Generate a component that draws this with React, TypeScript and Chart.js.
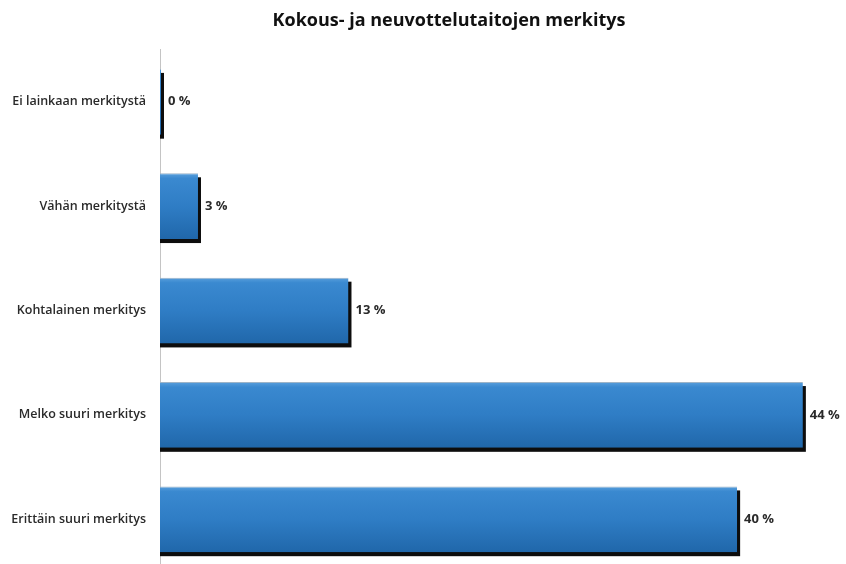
import React, { useEffect, useRef } from "react";
import { Chart, registerables } from "chart.js";

Chart.register(...registerables);

const titleText = "Kokous- ja neuvottelutaitojen merkitys";
const categories = [
  "Ei lainkaan merkitystä",
  "Vähän merkitystä",
  "Kohtalainen merkitys",
  "Melko suuri merkitys",
  "Erittäin suuri merkitys",
];
const values = [0, 2.6, 12.9, 44, 39.5];
const valueLabels = ["0 %", "3 %", "13 %", "44 %", "40 %"];

const FONT = "'Open Sans', Lato, sans-serif";

const shadowPlugin = {
  id: "barShadow",
  beforeDatasetsDraw(chart: any) {
    const ctx = chart.ctx;
    const meta = chart.getDatasetMeta(0);
    ctx.save();
    ctx.fillStyle = "#0d0d0d";
    meta.data.forEach((el: any) => {
      const p = el.getProps(["x", "y", "base", "height"], true);
      const left = Math.min(p.x, p.base);
      const w = Math.max(Math.abs(p.x - p.base), 1);
      ctx.fillRect(left, p.y - p.height / 2 + 4, w + 3, p.height);
    });
    ctx.restore();
  },
  afterDatasetsDraw(chart: any) {
    const ctx = chart.ctx;
    const meta = chart.getDatasetMeta(0);
    ctx.save();
    ctx.font = `bold 13px ${FONT}`;
    ctx.fillStyle = "#2a2a2a";
    ctx.textAlign = "left";
    ctx.textBaseline = "middle";
    meta.data.forEach((el: any, i: number) => {
      ctx.fillText(valueLabels[i], Math.max(el.x, el.base + 1) + 7, el.y);
    });
    ctx.restore();
  },
};

export default function App() {
  const ref = useRef<HTMLCanvasElement>(null);
  useEffect(() => {
    if (!ref.current) return;
    const chart = new Chart(ref.current, {
      type: "bar",
      data: {
        labels: categories,
        datasets: [
          {
            data: values,
            minBarLength: 1,
            clip: false as any,
            categoryPercentage: 1,
            barPercentage: 0.63,
            borderWidth: { top: 1, left: 0, right: 0, bottom: 0 } as any,
            borderSkipped: false as any,
            borderColor: "#9db4c8",
            backgroundColor: (c: any) => {
              const chart = c.chart;
              const area = chart.chartArea;
              if (!area) return "#2e7cc4";
              const y = chart.scales.y.getPixelForValue(c.dataIndex);
              const h = 66;
              const g = chart.ctx.createLinearGradient(0, y - h / 2, 0, y + h / 2);
              g.addColorStop(0, "#5aa0dd");
              g.addColorStop(0.08, "#3a89d0");
              g.addColorStop(0.5, "#2f7dc5");
              g.addColorStop(1, "#2067aa");
              return g;
            },
          },
        ],
      },
      options: {
        indexAxis: "y",
        animation: false,
        responsive: false,
        layout: { padding: { left: 0, right: 108, top: 0, bottom: 0 } },
        plugins: {
          legend: { display: false },
          tooltip: { enabled: false },
          title: {
            display: true,
            text: titleText,
            fullSize: false,
            color: "#111",
            font: { family: FONT, size: 18, weight: "bold" },
            padding: { top: 10, bottom: 18 },
          },
        },
        scales: {
          x: { display: false, min: 0, max: 39.56 },
          y: {
            afterFit: (s: any) => {
              s.width = 160;
            },
            grid: { display: false, drawTicks: false },
            border: { display: true, color: "#c4c4c4", width: 1 },
            ticks: {
              padding: 14,
              color: "#2a2a2a",
              font: { family: FONT, size: 12.5, weight: "600" },
            },
          },
        },
      },
      plugins: [shadowPlugin],
    });
    return () => chart.destroy();
  }, []);
  return (
    <div
      style={{
        position: "fixed",
        left: 0,
        top: 0,
        width: 846,
        height: 564,
        overflow: "hidden",
        background: "#fff",
      }}
    >
      <canvas ref={ref} width={846} height={593} style={{ display: "block" }} />
    </div>
  );
}
